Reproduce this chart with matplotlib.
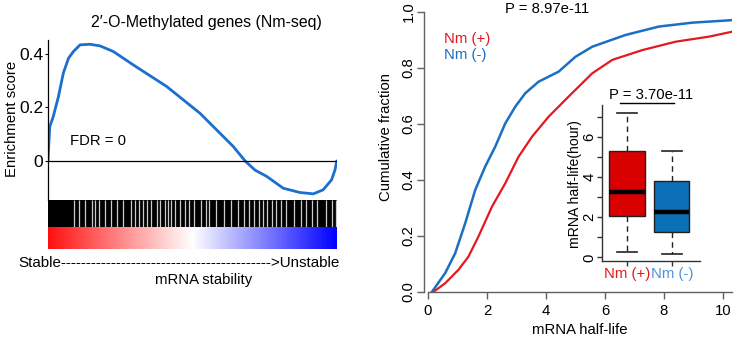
import numpy as np
import matplotlib
matplotlib.use("Agg")
import matplotlib.pyplot as plt
from matplotlib.colors import LinearSegmentedColormap

plt.rcParams["font.family"] = ["Liberation Sans", "DejaVu Sans"]
plt.rcParams["font.size"] = 10.7

# =========================
# DATA
# =========================

# GSEA running enrichment score, x = gene rank (0 = most stable, 1 = most unstable)
es_rank = [0.0, 0.006, 0.018, 0.036, 0.053, 0.071, 0.088, 0.111, 0.145, 0.18,
           0.226, 0.295, 0.411, 0.526, 0.641, 0.682, 0.716, 0.757, 0.814,
           0.872, 0.918, 0.952, 0.981, 0.993, 0.999]
es_score = [0.0, 0.128, 0.165, 0.24, 0.328, 0.384, 0.409, 0.434, 0.436, 0.43,
            0.409, 0.359, 0.278, 0.178, 0.054, 0.0, -0.034, -0.058, -0.102,
            -0.118, -0.123, -0.108, -0.071, -0.034, 0.0]

# ranks without an Nm hit (gaps in the barcode)
gap_rank = [0.091, 0.107, 0.128, 0.151, 0.163, 0.178, 0.197, 0.218, 0.238,
            0.260, 0.288, 0.302, 0.314, 0.329, 0.344, 0.357, 0.377, 0.388,
            0.404, 0.415, 0.427, 0.440, 0.456, 0.473, 0.487, 0.506, 0.529,
            0.547, 0.557, 0.581, 0.610, 0.633, 0.656, 0.679, 0.697, 0.714,
            0.731, 0.743, 0.759, 0.776, 0.788, 0.805, 0.822, 0.851, 0.874,
            0.892, 0.915, 0.932, 0.961, 0.984, 0.995]

# cumulative distribution of mRNA half-life
nm_pos_x = [0.18, 0.58, 1.03, 1.37, 1.71, 2.17, 2.62, 3.07, 3.53, 4.09, 4.77,
            5.57, 6.25, 7.27, 8.4, 9.53, 10.33]
nm_pos_y = [0.0, 0.031, 0.079, 0.126, 0.198, 0.305, 0.388, 0.483, 0.555,
            0.626, 0.698, 0.781, 0.829, 0.864, 0.894, 0.912, 0.93]
nm_neg_x = [0.13, 0.58, 0.92, 1.26, 1.6, 1.94, 2.28, 2.62, 2.96, 3.3, 3.75,
            4.43, 5.0, 5.57, 6.7, 7.83, 8.97, 10.33]
nm_neg_y = [0.0, 0.067, 0.138, 0.245, 0.364, 0.448, 0.519, 0.602, 0.662,
            0.71, 0.751, 0.787, 0.84, 0.876, 0.918, 0.948, 0.962, 0.971]

# boxplot summary (hours)
box_labels = ["Nm (+)", "Nm (-)"]
box_q1 = [2.05, 1.25]
box_med = [3.25, 2.25]
box_q3 = [5.3, 3.8]
box_lo = [0.25, 0.15]
box_hi = [7.2, 5.3]

red = "#e3191f"
blue = "#1b6fc2"
box_fill = ["#d90000", "#0a6fb5"]
label_col = ["#e3191f", "#4f94d8"]
axis_gray = "#606060"

W, H = 737, 339
fig = plt.figure(figsize=(W / 100, H / 100), dpi=100)


def px_axes(x0, y0, x1, y1):
    # pixel box (top-left origin) -> figure axes
    return fig.add_axes([x0 / W, 1 - y1 / H, (x1 - x0) / W, (y1 - y0) / H])


# =========================
# LEFT: GSEA PLOT
# =========================

ax_es = px_axes(48, 40, 337, 200)
ax_es.plot(es_rank, es_score, color="#1a6fcf", lw=2.0, solid_capstyle="round")
ax_es.axhline(0, color="black", lw=0.9)
ax_es.set_xlim(0, 1)
ax_es.set_ylim(-0.146, 0.452)
for s in ["top", "right", "bottom"]:
    ax_es.spines[s].set_visible(False)
ax_es.spines["left"].set_linewidth(0.9)
ax_es.set_xticks([])
ax_es.set_yticks([0, 0.2, 0.4])
ax_es.set_yticklabels(["0", "0.2", "0.4"], fontsize=12.5)
ax_es.tick_params(axis="y", length=2.5, width=0.8, pad=1)
ax_es.text(0.076, 0.075, "FDR = 0", fontsize=10.7, va="center")

ax_bar = px_axes(48, 200, 337, 227)
ax_bar.add_patch(plt.Rectangle((0, 0), 1, 1, color="black", zorder=0))
ax_bar.vlines(gap_rank, 0, 1, color="white", lw=0.9, alpha=0.8)
ax_bar.set_xlim(0, 1)
ax_bar.set_ylim(0, 1)
ax_bar.axis("off")

ax_cb = px_axes(48, 227, 337, 249)
cmap = LinearSegmentedColormap.from_list("rwb", ["#ff1010", "white", "#0000ff"])
ax_cb.imshow(np.linspace(0, 1, 256)[None, :], aspect="auto", cmap=cmap,
             extent=[0, 1, 0, 1])
ax_cb.axis("off")

fig.text(206 / W, 1 - 22 / H, "2\u2032-O-Methylated genes (Nm-seq)",
         ha="center", va="center", fontsize=11.4)
fig.text(12 / W, 1 - 119 / H, "Enrichment score", rotation=90,
         ha="center", va="center", fontsize=10.7)
fig.text(178.5 / W, 1 - 263 / H, "Stable" + "-" * 42 + ">Unstable",
         ha="center", va="center", fontsize=10.9)
fig.text(203.5 / W, 1 - 280 / H, "mRNA stability",
         ha="center", va="center", fontsize=10.7)

# =========================
# RIGHT: CUMULATIVE FRACTION
# =========================

ax_cdf = px_axes(428, 12, 731.7, 292)
ax_cdf.plot(nm_pos_x, nm_pos_y, color=red, lw=1.6)
ax_cdf.plot(nm_neg_x, nm_neg_y, color=blue, lw=1.8)
ax_cdf.set_xlim(0, 10.3)
ax_cdf.set_ylim(0, 1.0)
ax_cdf.spines["top"].set_visible(False)
ax_cdf.spines["right"].set_visible(False)
ax_cdf.spines["left"].set_position(("outward", 3))
for s in ["left", "bottom"]:
    ax_cdf.spines[s].set_color(axis_gray)
    ax_cdf.spines[s].set_linewidth(1.0)
ax_cdf.set_xticks([0, 2, 4, 6, 8, 10])
ax_cdf.set_yticks([0, 0.2, 0.4, 0.6, 0.8, 1.0])
ax_cdf.set_yticklabels(["0.0", "0.2", "0.4", "0.6", "0.8", "1.0"],
                       rotation=90, va="center")
ax_cdf.tick_params(labelsize=10.7, length=5, width=1.0, color=axis_gray)
ax_cdf.tick_params(axis="y", pad=1)
ax_cdf.set_xlabel("mRNA half-life", fontsize=10.7, labelpad=4)
fig.text(386 / W, 1 - 137 / H, "Cumulative fraction", rotation=90,
         ha="center", va="center", fontsize=10.7)
fig.text(547 / W, 1 - 9 / H, "P = 8.97e-11", ha="center", va="center",
         fontsize=10.7)
fig.text(444 / W, 1 - 39 / H, "Nm (+)", color=red, va="center", fontsize=10.7)
fig.text(444 / W, 1 - 55 / H, "Nm (-)", color=blue, va="center", fontsize=10.7)

# =========================
# INSET: BOXPLOT
# =========================

ax_box = px_axes(601.5, 105.2, 700, 261)
stats = []
for i in range(2):
    stats.append(dict(med=box_med[i], q1=box_q1[i], q3=box_q3[i],
                      whislo=box_lo[i], whishi=box_hi[i], fliers=[]))
bp = ax_box.bxp(stats, positions=[1, 2], widths=[0.81, 0.79],
                capwidths=0.44, patch_artist=True, showfliers=False,
                medianprops=dict(color="black", lw=3.2, solid_capstyle="butt"),
                boxprops=dict(edgecolor="#222222", lw=1.0),
                whiskerprops=dict(color="#222222", lw=1.0, ls=(0, (4, 3))),
                capprops=dict(color="#222222", lw=1.2))
for patch, c in zip(bp["boxes"], box_fill):
    patch.set_facecolor(c)
ax_box.set_xlim(0.427, 2.633)
ax_box.set_ylim(-0.18, 7.6)
ax_box.patch.set_alpha(0)
ax_box.spines["top"].set_visible(False)
ax_box.spines["right"].set_visible(False)
for s in ["left", "bottom"]:
    ax_box.spines[s].set_color("#333333")
    ax_box.spines[s].set_linewidth(1.0)
ax_box.set_yticks(range(8))
ax_box.set_yticklabels(["0", "", "2", "", "4", "", "6", ""], rotation=90,
                       va="center")
ax_box.set_xticks([1, 2])
ax_box.set_xticklabels(box_labels)
for t, c in zip(ax_box.get_xticklabels(), label_col):
    t.set_color(c)
ax_box.tick_params(labelsize=10.7, length=3.5, width=1.0, color="#333333")
ax_box.tick_params(axis="x", pad=1)
ax_box.tick_params(axis="y", pad=0)
ax_box.plot([0.85, 2.06], [7.72, 7.72], color="black", lw=1.0, clip_on=False)
ax_box.text(1.53, 8.1, "P = 3.70e-11", ha="center", va="center",
            fontsize=10.7, clip_on=False)
fig.text(575 / W, 1 - 184 / H, "mRNA half-life(hour)", rotation=90,
         ha="center", va="center", fontsize=10.1)

fig.savefig("out.png", dpi=100)
